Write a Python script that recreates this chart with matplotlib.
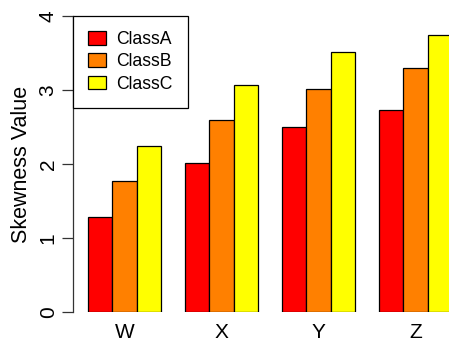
import matplotlib
matplotlib.use("Agg")
import matplotlib.pyplot as plt
import numpy as np

# skewness per group and class
groups = ["W", "X", "Y", "Z"]
classes = ["ClassA", "ClassB", "ClassC"]
class_a = [1.28, 2.02, 2.50, 2.73]
class_b = [1.77, 2.60, 3.01, 3.30]
class_c = [2.24, 3.07, 3.52, 3.75]
colors = ["#FF0000", "#FF8000", "#FFFF00"]

plt.rcParams["font.family"] = ["Liberation Sans", "DejaVu Sans"]

fig = plt.figure(figsize=(4.49, 3.41), dpi=100)
ax = fig.add_axes([73 / 449, 29 / 341, 376 / 449, 296 / 341])

# R-style beside barplot: one unit of space before each group of three bars
width = 1.0
series = [class_a, class_b, class_c]
for k, (vals, col, name) in enumerate(zip(series, colors, classes)):
    lefts = [1 + 4 * i + k for i in range(len(groups))]
    ax.bar(lefts, vals, width=width, align="edge", color=col,
           edgecolor="black", linewidth=0.9, label=name)

centers = [2.5 + 4 * i for i in range(len(groups))]
ax.set_xticks(centers)
ax.set_xticklabels(groups, fontsize=15)
ax.tick_params(axis="x", length=0, pad=8)

ax.set_xlim(0.38, 0.38 + 376 / 24.25)
ax.set_ylim(0, 4)
ax.set_yticks([0, 1, 2, 3, 4])
ax.set_yticklabels(["0", "1", "2", "3", "4"], rotation=90, va="center", fontsize=15)
ax.tick_params(axis="y", length=8, width=0.9, pad=3, color="#333333")
ax.set_ylabel("Skewness Value", fontsize=15.5, labelpad=4.5)

for side in ["top", "right", "bottom"]:
    ax.spines[side].set_visible(False)
ax.spines["left"].set_linewidth(0.9)
ax.spines["left"].set_color("#333333")

leg = ax.legend(loc="upper left", bbox_to_anchor=(0, 1), borderaxespad=0,
                fontsize=12.7, fancybox=False, framealpha=1, edgecolor="black",
                handlelength=1.0, handleheight=0.8, handletextpad=0.6,
                labelspacing=0.3, borderpad=0.85)
leg.get_frame().set_linewidth(0.9)

fig.savefig("out.png", dpi=100)
